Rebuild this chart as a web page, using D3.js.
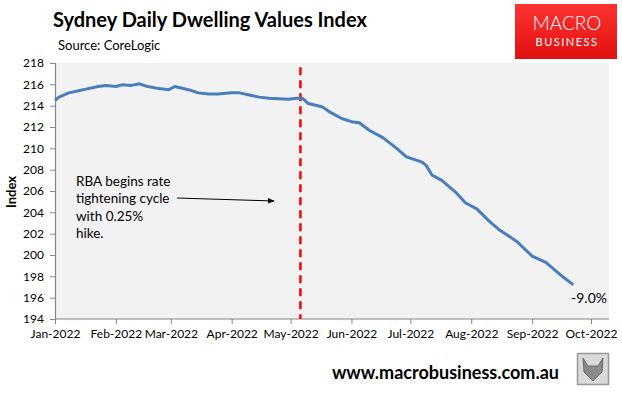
<!DOCTYPE html>
<html>
<head>
<meta charset="utf-8">
<script src="https://cdn.jsdelivr.net/npm/d3@7"></script>
<style>
  body { margin: 0; background: #fff; }
  svg text { font-family: Lato, "Open Sans", sans-serif; }
</style>
</head>
<body>
<div id="chart"></div>
<script>
var width = 622, height = 394,
    margins = {top: 63, right: 13, bottom: 75, left: 55}

// values (date, index level)
var dates = ['2022-01-01','2022-01-03','2022-01-08','2022-01-13','2022-01-18','2022-01-23','2022-01-27',
    '2022-02-01','2022-02-04','2022-02-09','2022-02-13','2022-02-16','2022-02-23','2022-02-28',
    '2022-03-03','2022-03-10','2022-03-15','2022-03-20','2022-03-25','2022-04-01','2022-04-05',
    '2022-04-10','2022-04-15','2022-04-20','2022-04-25','2022-04-30','2022-05-04','2022-05-07',
    '2022-05-10','2022-05-17','2022-05-22','2022-05-27','2022-06-01','2022-06-05','2022-06-10',
    '2022-06-17','2022-06-24','2022-06-29','2022-07-07','2022-07-09','2022-07-12','2022-07-17',
    '2022-07-24','2022-07-29','2022-08-04','2022-08-10','2022-08-15','2022-08-24','2022-09-01',
    '2022-09-08','2022-09-15','2022-09-22']
var values = [214.5, 214.8, 215.2, 215.4, 215.6, 215.8, 215.9,
    215.8, 215.95, 215.9, 216.05, 215.85, 215.6, 215.5,
    215.8, 215.5, 215.2, 215.1, 215.1, 215.2, 215.2,
    215.0, 214.8, 214.7, 214.65, 214.6, 214.7, 214.7,
    214.2, 213.9, 213.3, 212.8, 212.5, 212.4, 211.7,
    211.0, 210.0, 209.2, 208.7, 208.4, 207.5, 207.0,
    205.9, 204.9, 204.3, 203.2, 202.4, 201.3, 199.9,
    199.3, 198.2, 197.2]
var yTicks = [194, 196, 198, 200, 202, 204, 206, 208, 210, 212, 214, 216, 218]
var xTickLabels = ['Jan-2022','Feb-2022','Mar-2022','Apr-2022','May-2022','Jun-2022','Jul-2022','Aug-2022','Sep-2022','Oct-2022']
var rbaDate = '2022-05-06'
var endLabel = '-9.0%'
var noteLines = ['RBA begins rate', 'tightening cycle', 'with 0.25%', 'hike.']

var parse = d3.timeParse('%Y-%m-%d')
var data = dates.map(function(d, i) { return {date: parse(d), value: values[i]} })

var x = d3.scaleTime()
    .domain([parse('2022-01-01'), parse('2022-10-01')])
    .range([margins.left, 591])
var y = d3.scaleLinear()
    .domain([194, 218])
    .range([height - margins.bottom, margins.top])

var svg = d3.select('#chart').append('svg')
    .attr('width', width)
    .attr('height', height)

var defs = svg.append('defs')
var grad = defs.append('linearGradient').attr('id', 'logoGrad')
    .attr('x1', 0).attr('y1', 0).attr('x2', 0).attr('y2', 1)
grad.append('stop').attr('offset', '0%').attr('stop-color', '#ff3333')
grad.append('stop').attr('offset', '100%').attr('stop-color', '#e01010')
defs.append('marker').attr('id', 'arrow')
    .attr('viewBox', '0 0 10 10').attr('refX', 9).attr('refY', 5)
    .attr('markerWidth', 7).attr('markerHeight', 7).attr('orient', 'auto')
  .append('path').attr('d', 'M0,1 L10,5 L0,9 Z').attr('fill', '#000')

// plot background
svg.append('rect')
    .attr('x', margins.left)
    .attr('y', margins.top)
    .attr('width', width - margins.right - margins.left)
    .attr('height', y(194) - margins.top)
    .attr('fill', '#f2f2f2')

// axes
var yAxis = svg.append('g')
    .attr('transform', 'translate(' + margins.left + ',0)')
    .call(d3.axisLeft(y).tickValues(yTicks).tickSize(5).tickPadding(6).tickFormat(d3.format('d')))
var xAxis = svg.append('g')
    .attr('transform', 'translate(0,' + y(194) + ')')
    .call(d3.axisBottom(x).ticks(d3.timeMonth.every(1)).tickSize(5).tickPadding(5)
        .tickFormat(function(d, i) { return xTickLabels[i] }))

;[yAxis, xAxis].forEach(function(g) {
    g.select('.domain').attr('stroke', '#868686').attr('stroke-width', 1.2)
    g.selectAll('.tick line').attr('stroke', '#868686')
    g.selectAll('.tick text').attr('fill', '#000').style('font-size', '12px')
})
xAxis.select('.domain').attr('d', 'M' + margins.left + ',0H' + (width - margins.right))

// rba line
svg.append('line')
    .attr('x1', x(parse(rbaDate))).attr('x2', x(parse(rbaDate)))
    .attr('y1', y(217.6)).attr('y2', y(194))
    .attr('stroke', '#ff0000')
    .attr('stroke-width', 2.5)
    .attr('stroke-dasharray', '8,5')

// index line
svg.append('path')
    .datum(data)
    .attr('d', d3.line().x(function(d) { return x(d.date) }).y(function(d) { return y(d.value) }))
    .attr('fill', 'none')
    .attr('stroke', '#4a7ebb')
    .attr('stroke-width', 3)
    .attr('stroke-linejoin', 'round')

svg.append('text')
    .attr('x', 607).attr('y', 303)
    .attr('text-anchor', 'end')
    .style('font-size', '14px')
    .text(endLabel)

// annotation
svg.append('text')
    .attr('x', 76).attr('y', 186)
    .style('font-size', '13.5px')
    .selectAll('tspan').data(noteLines).enter().append('tspan')
    .attr('x', 76)
    .attr('dy', function(d, i) { return i ? 17.3 : 0 })
    .text(function(d) { return d })
svg.append('line')
    .attr('x1', 177).attr('y1', 198)
    .attr('x2', 274).attr('y2', 201)
    .attr('stroke', '#000').attr('stroke-width', 1)
    .attr('marker-end', 'url(#arrow)')

// titles
svg.append('text')
    .attr('x', 53).attr('y', 27)
    .style('font-size', '20px').style('font-weight', 'bold')
    .text('Sydney Daily Dwelling Values Index')
svg.append('text')
    .attr('x', 58).attr('y', 50)
    .style('font-size', '13px')
    .text('Source: CoreLogic')
svg.append('text')
    .attr('transform', 'translate(16,192) rotate(-90)')
    .attr('text-anchor', 'middle')
    .style('font-size', '13px').style('font-weight', 'bold')
    .text('Index')

// logo
svg.append('rect')
    .attr('x', 515).attr('y', 4).attr('width', 102).attr('height', 55)
    .attr('fill', 'url(#logoGrad)')
svg.append('text')
    .attr('x', 567).attr('y', 30)
    .attr('text-anchor', 'middle')
    .attr('fill', '#fff')
    .style('font-size', '19px').style('font-weight', '300')
    .text('MACRO')
svg.append('text')
    .attr('x', 567).attr('y', 46)
    .attr('text-anchor', 'middle')
    .attr('fill', '#fff')
    .style('font-size', '11px').style('letter-spacing', '1.5px')
    .text('BUSINESS')

// footer
svg.append('text')
    .attr('x', 559).attr('y', 379)
    .attr('text-anchor', 'end')
    .style('font-size', '18px').style('font-weight', 'bold')
    .text('www.macrobusiness.com.au')
svg.append('rect')
    .attr('x', 577.5).attr('y', 353.5).attr('width', 31).attr('height', 31)
    .attr('fill', '#d9d9d9').attr('stroke', '#999').attr('stroke-width', 1.5)
svg.append('path')
    .attr('d', 'M583,358 L588,366 L598,366 L603,358 L602,372 L593,381 L584,372 Z')
    .attr('fill', '#8a8a8a').attr('stroke', '#555').attr('stroke-width', 0.8)
</script>
</body>
</html>
